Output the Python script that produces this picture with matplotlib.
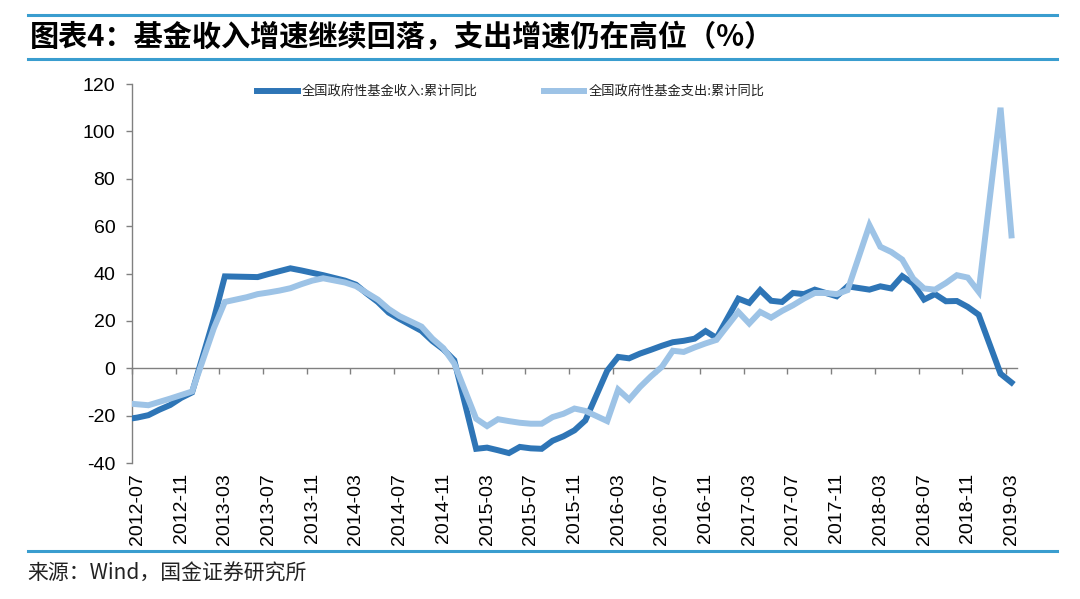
import matplotlib
matplotlib.use('Agg')
import matplotlib.pyplot as plt
from matplotlib.lines import Line2D

plt.rcParams['font.family'] = ['Liberation Sans', 'Noto Sans CJK SC', 'DejaVu Sans']

# ---------------- data ----------------
# monthly cumulative YoY (January merged into February, so no January points)
months = [f'{y}-{m:02d}' for y in range(2012, 2020) for m in range(2, 13)
          if '2012-06' <= f'{y}-{m:02d}' <= '2019-03']

income = [
    # 2012-06 .. 2012-12
    -21.5, -20.8, -19.8, -17.5, -15.5, -12.5, -10.2,
    # 2013-02 .. 2013-12
    21.0, 38.8, 38.7, 38.6, 38.5, 39.8, 41.0, 42.2, 41.3, 40.3, 39.3,
    # 2014
    37.0, 35.3, 31.5, 28.0, 23.5, 20.8, 18.3, 15.8, 11.5, 8.0, 3.4,
    # 2015
    -34.0, -33.5, -34.6, -35.8, -33.2, -33.8, -34.0, -30.6, -28.7, -26.2, -22.0,
    # 2016
    -1.0, 4.8, 4.2, 6.2, 7.8, 9.5, 11.0, 11.6, 12.5, 15.7, 12.8,
    # 2017
    29.4, 27.6, 33.0, 28.5, 28.0, 31.8, 31.3, 33.2, 31.8, 30.4, 34.6,
    # 2018
    33.2, 34.6, 33.7, 38.9, 35.8, 29.0, 31.3, 28.3, 28.4, 25.9, 22.6,
    # 2019-02, 2019-03
    -2.3, -6.0,
]

expend = [
    # 2012-06 .. 2012-12
    -14.8, -15.2, -15.6, -14.2, -12.8, -11.3, -9.8,
    # 2013
    17.0, 28.0, 29.0, 30.0, 31.3, 32.0, 32.8, 33.8, 35.5, 37.0, 38.0,
    # 2014
    36.2, 34.7, 31.8, 29.0, 25.0, 22.0, 19.8, 17.6, 12.5, 8.5, 2.0,
    # 2015
    -21.3, -24.4, -21.5, -22.3, -23.0, -23.4, -23.4, -20.6, -19.2, -17.0, -18.0,
    # 2016
    -22.3, -9.0, -13.2, -7.9, -3.4, 0.6, 7.4, 6.9, 8.8, 10.5, 12.0,
    # 2017
    23.8, 18.9, 23.8, 21.4, 24.2, 26.6, 29.4, 31.8, 31.8, 31.3, 33.0,
    # 2018
    60.4, 51.3, 49.1, 45.9, 37.9, 33.7, 33.2, 36.0, 39.3, 38.3, 32.3,
    # 2019-02, 2019-03
    110.0, 56.1,
]

tick_labels = ['2012-07', '2012-11', '2013-03', '2013-07', '2013-11', '2014-03',
               '2014-07', '2014-11', '2015-03', '2015-07', '2015-11', '2016-03',
               '2016-07', '2016-11', '2017-03', '2017-07', '2017-11', '2018-03',
               '2018-07', '2018-11', '2019-03']

series_names = ['全国政府性基金收入:累计同比', '全国政府性基金支出:累计同比']
title = '图表4：基金收入增速继续回落，支出增速仍在高位（%）'
source = '来源：Wind，国金证券研究所'

yticks = [-40, -20, 0, 20, 40, 60, 80, 100, 120]

# ---------------- helpers ----------------
def month_pos(s):
    y, m = int(s[:4]), int(s[5:7])
    return (y - 2012) * 12 + (m - 7)

x = [month_pos(s) + 0.5 for s in months]
tick_pos = [month_pos(s) for s in tick_labels]

DARK = '#2E75B6'
LIGHT = '#9DC3E6'
RULE = '#3A9DCF'
AXC = '#808080'

fig = plt.figure(figsize=(10.8, 5.99), dpi=100)
ax = fig.add_axes([0.1222, 0.2270, 0.8194, 0.6327])

ax.plot(x, income, color=DARK, lw=4.3, solid_joinstyle='miter', label=series_names[0], zorder=3)
ax.plot(x, expend, color=LIGHT, lw=4.3, solid_joinstyle='miter', label=series_names[1], zorder=4)

ax.set_xlim(0, 81)
ax.set_ylim(-40, 120)
ax.set_yticks(yticks)
ax.set_yticklabels([str(v) for v in yticks], fontsize=14)

for s in ['top', 'right']:
    ax.spines[s].set_visible(False)
ax.spines['left'].set_color(AXC)
ax.spines['left'].set_linewidth(1.0)
ax.spines['bottom'].set_position(('data', 0))
ax.spines['bottom'].set_color(AXC)
ax.spines['bottom'].set_linewidth(1.0)

ax.tick_params(axis='y', direction='out', length=4, width=1, color=AXC, pad=8, labelcolor='black')
ax.set_xticks(tick_pos)
ax.tick_params(axis='x', direction='out', length=4, width=1, color=AXC, labelbottom=False)

trans = ax.get_xaxis_transform()
for p, lab in zip(tick_pos, tick_labels):
    ax.text(p + 0.5, -0.026, lab, transform=trans, rotation=90, ha='center', va='top',
            fontsize=14, color='black', family=['Liberation Sans'])

leg = ax.legend(loc='center left', bbox_to_anchor=(0.141, 0.98), ncol=2, frameon=False,
                borderpad=0, borderaxespad=0, handlelength=3.1, handletextpad=0.3,
                columnspacing=5.0, prop={'family': ['Noto Sans CJK SC'], 'size': 9.5})
for t in leg.get_texts():
    t.set_color('#222222')

# header / footer rules
for yy in [0.975, 0.9015, 0.080]:
    fig.add_artist(Line2D([0.026, 0.979], [yy, yy], transform=fig.transFigure,
                          color=RULE, lw=2.2))

fig.text(0.028, 0.938, title, ha='left', va='center', fontsize=21, fontweight='bold',
         family=['Noto Sans CJK SC', 'DejaVu Sans'], color='black')
fig.text(0.025, 0.042, source, ha='left', va='center', fontsize=15,
         family=['Noto Sans CJK SC', 'Liberation Sans'], color='#222222')

fig.savefig('out.png', dpi=100)
